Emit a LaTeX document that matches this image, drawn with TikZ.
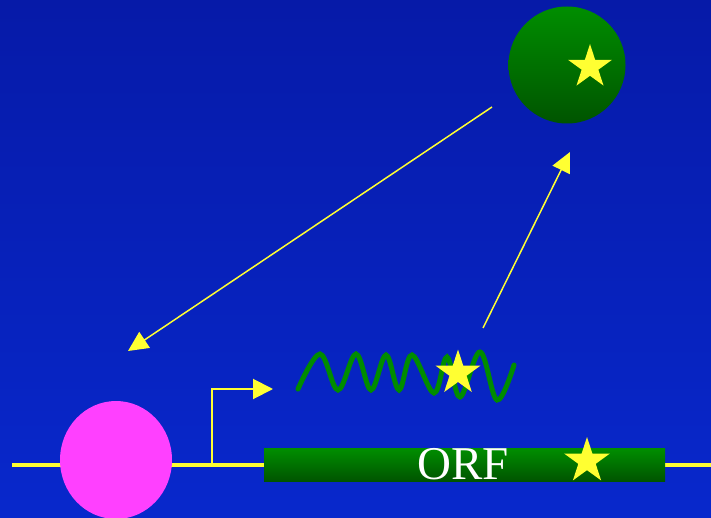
\documentclass[tikz,border=0pt]{standalone}
\usepackage{fontspec}
\setmainfont{Liberation Serif}
\usetikzlibrary{arrows.meta,shapes.geometric}
\definecolor{bgtop}{RGB}{6,26,168}
\definecolor{bgbot}{RGB}{8,40,204}
\definecolor{gtop}{RGB}{0,142,0}
\definecolor{gbot}{RGB}{0,84,0}
\definecolor{ylw}{RGB}{255,255,50}
\definecolor{pnk}{RGB}{255,64,255}
\definecolor{wavegreen}{RGB}{0,140,0}
\tikzset{
  ystar/.style={star, star points=5, star point ratio=2.618, fill=ylw, draw=none, inner sep=0pt, minimum size=48pt},
  yarrow/.style={draw=ylw, line width=1.5pt, -{Triangle[length=20pt,width=19pt]}},
  greenshade/.style={top color=gtop, bottom color=gbot, draw=none},
}
\begin{document}
\begin{tikzpicture}[x=1pt,y=-1pt]
\useasboundingbox (0,0) rectangle (711,518);
\shade[top color=bgtop, bottom color=bgbot] (0,0) rectangle (711,518);
% DNA line
\coordinate (dnaL) at (12,465);
\coordinate (dnaR) at (711,465);
\draw[draw=ylw, line width=3.5pt] (dnaL) -- (dnaR);
% promoter arrow
\coordinate (pbase) at (212,465);
\coordinate (pcorner) at (212,389);
\coordinate (ptip) at (273,389);
\draw[draw=ylw, line width=2pt, -{Triangle[length=20pt,width=20pt]}] (pbase) -- (pcorner) -- (ptip);
% ORF
\node[greenshade, minimum width=401pt, minimum height=33pt, inner sep=0pt, anchor=north west] (orf) at (264,448) {};
\node[text=white, font=\fontsize{47}{47}\selectfont, anchor=base] (orftext) at (463,479) {ORF};
\node[ystar, minimum size=48pt] (orfstar) at (587,461) {};
% pink circle
\node[ellipse, fill=pnk, draw=none, minimum width=112pt, minimum height=118pt, inner sep=0pt] (pink) at (116,460) {};
% green protein
\node[circle, greenshade, minimum size=117pt, inner sep=0pt] (prot) at (567,65) {};
\node[ystar, minimum size=46pt] (protstar) at (590,67) {};
% mRNA wave
\draw[draw=wavegreen, line width=5pt, line cap=round] plot[smooth, tension=0.6] coordinates {
(298,389) (320,354) (338,390) (356,354) (371,390) (386,355) (399,390) (412,355) (434,393) (447,357) (460,397) (480,352) (497,400) (514,365)};
\node[ystar, minimum size=47pt] (wavestar) at (458,373) {};
% arrows
\coordinate (a1s) at (492,107);
\coordinate (a1e) at (128,351);
\draw[yarrow] (a1s) -- (a1e);
\coordinate (a2s) at (483,328);
\coordinate (a2e) at (570,152);
\draw[yarrow] (a2s) -- (a2e);
\end{tikzpicture}
\end{document}
